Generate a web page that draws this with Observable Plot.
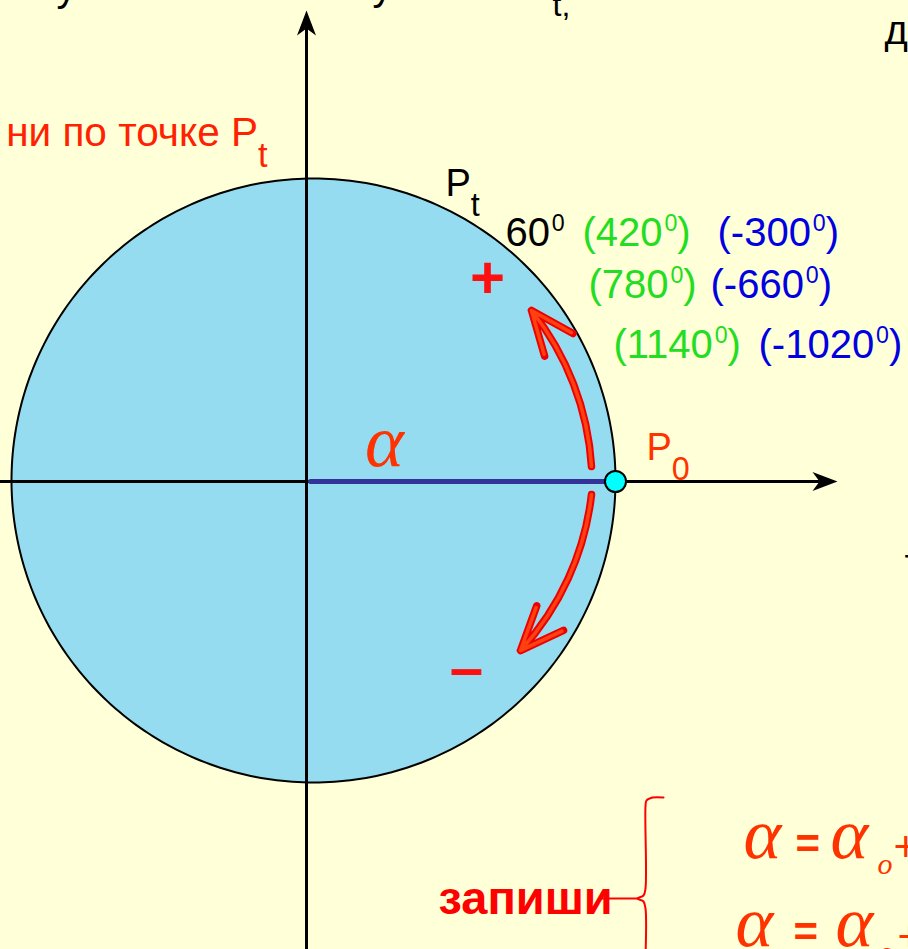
<!DOCTYPE html>
<html><head><meta charset="utf-8">
<script src="https://cdn.jsdelivr.net/npm/d3@7"></script>
<script src="https://cdn.jsdelivr.net/npm/@observablehq/plot@0.6"></script>
<style>html,body{margin:0;padding:0;background:#FFFFD8;overflow:hidden}</style>
</head><body><div id="chart"></div>
<script>
// ---- data (coordinates: origin at axes intersection, y up, 1 unit = 1 px) ----
const R = 302;
const circleCenter = {x: 7, y: 1};
const axisX = [{x: -306, y: 0}, {x: 519, y: 0}];
const axisY = [{x: 0, y: -468}, {x: 0, y: 453}];
const axisTips = [{x: 531, y: 0, rotate: 90}, {x: 0, y: 471, rotate: 0}];
const radiusSeg = [{x: 4, y: 0}, {x: 298, y: 0}];
const pointP0 = [{x: 309, y: 0}];
const rotPlus = [{x1: 285, y1: 15, x2: 225, y2: 171}];
const rotMinus = [{x1: 285, y1: -13, x2: 214, y2: -169}];

const pLabels = [{label: "P_t", x: 139, y: 286}];
const angleBase = [{label: "60^0", x: 199, y: 236}];
const anglesPositive = [
  {label: "(420^0)", x: 276, y: 236},
  {label: "(780^0)", x: 282, y: 184},
  {label: "(1140^0)", x: 307, y: 124}
];
const anglesNegative = [
  {label: "(-300^0)", x: 411, y: 236},
  {label: "(-660^0)", x: 404, y: 184},
  {label: "(-1020^0)", x: 452, y: 124}
];
const p0Label = [{label: "P_0", x: 340, y: 22}];
const alphaLabel = [{label: "α", x: 78, y: 16}];
const signLabels = [{label: "+", x: 181, y: 203}, {label: "–", x: 160, y: -187}];
const topLeftText = [{label: "ни по точке P_t", x: -39, y: 336}];
const topPartial = [
  {label: "у", x: -250, y: 481},
  {label: "у", x: 66, y: 482},
  {label: "д", x: 578, y: 438},
  {label: "т", x: 598, y: -95}
];
const topPartialSub = [{label: "t,", x: 246, y: 466}];
const writeLabel = [{label: "запиши", x: 132, y: -432}];
const formulaAlpha = [{x: 437, y: -376}, {x: 524, y: -376}, {x: 429, y: -464}, {x: 529, y: -464}];
const formulaEq = [{x: 489, y: -376}, {x: 487, y: -464}];
const formulaPlus = [{x: 587, y: -379}, {x: 591, y: -469}];
const formulaSub = [{x: 571, y: -392}, {x: 572, y: -480}];
const brace = [
  {x: 357, y: -316}, {x: 346, y: -316}, {x: 340, y: -319}, {x: 339, y: -325},
  {x: 339, y: -407}, {x: 337, y: -414}, {x: 331, y: -417}, {x: 337, y: -420},
  {x: 339, y: -427}, {x: 339, y: -475}
];
const braceLink = [{x: 294, y: -417}, {x: 331, y: -417}];

// ---- geometry helpers ----
const deg = d3.range(0, 361, 1);
const half = d3.range(0, 181, 1);
const rad = (a) => a * Math.PI / 180;
const stealth = {
  draw(ctx, size) {
    const r = Math.sqrt(size / Math.PI);
    ctx.moveTo(0, 0);
    ctx.lineTo(0.38 * r, r);
    ctx.lineTo(0, 0.72 * r);
    ctx.lineTo(-0.38 * r, r);
    ctx.closePath();
  }
};
const sans = "Liberation Sans, Arial, sans-serif";
const serif = "Liberation Serif, Times New Roman, serif";
const txt = (data, o) => Plot.text(data, {x: "x", y: "y", text: "label", textAnchor: "start", lineAnchor: "bottom", fontFamily: sans, ...o});

const svg = Plot.plot({
  width: 908, height: 949, margin: 0,
  x: {domain: [-306, 602], range: [0, 908], axis: null},
  y: {domain: [-468, 481], range: [949, 0], axis: null},
  style: {background: "#FFFFD8", overflow: "visible"},
  marks: [
    Plot.areaY(half, {
      x: (a) => circleCenter.x + R * Math.cos(rad(a)),
      y1: (a) => circleCenter.y - R * Math.sin(rad(a)),
      y2: (a) => circleCenter.y + R * Math.sin(rad(a)),
      fill: "#96DCF0"
    }),
    Plot.line(deg, {
      x: (a) => circleCenter.x + R * Math.cos(rad(a)),
      y: (a) => circleCenter.y + R * Math.sin(rad(a)),
      stroke: "black", strokeWidth: 2
    }),
    Plot.line(axisX, {x: "x", y: "y", stroke: "black", strokeWidth: 3}),
    Plot.line(axisY, {x: "x", y: "y", stroke: "black", strokeWidth: 3}),
    Plot.dot(axisTips, {x: "x", y: "y", r: 25, symbol: stealth, rotate: "rotate", fill: "black", stroke: "none"}),
    Plot.line(radiusSeg, {x: "x", y: "y", stroke: "#333399", strokeWidth: 5}),
    Plot.arrow(rotPlus, {x1: "x1", y1: "y1", x2: "x2", y2: "y2", bend: -17.5, headAngle: 45, headLength: 9.5, stroke: "#EE0000", strokeWidth: 7.5}),
    Plot.arrow(rotPlus, {x1: "x1", y1: "y1", x2: "x2", y2: "y2", bend: -17.5, headAngle: 45, headLength: 19, stroke: "#FF4010", strokeWidth: 3.6}),
    Plot.arrow(rotMinus, {x1: "x1", y1: "y1", x2: "x2", y2: "y2", bend: 18, headAngle: 45, headLength: 9.5, stroke: "#EE0000", strokeWidth: 7.5}),
    Plot.arrow(rotMinus, {x1: "x1", y1: "y1", x2: "x2", y2: "y2", bend: 18, headAngle: 45, headLength: 19, stroke: "#FF4010", strokeWidth: 3.6}),
    Plot.dot(pointP0, {x: "x", y: "y", r: 10.5, fill: "#00FFFF", stroke: "black", strokeWidth: 2}),
    Plot.line(brace, {x: "x", y: "y", stroke: "#FF0000", strokeWidth: 2, curve: "catmull-rom"}),
    Plot.line(braceLink, {x: "x", y: "y", stroke: "#FF0000", strokeWidth: 2}),
    txt(pLabels, {fontSize: 38, fill: "black"}),
    txt(angleBase, {fontSize: 40, fill: "black"}),
    txt(anglesPositive, {fontSize: 40, fill: "#22DD22"}),
    txt(anglesNegative, {fontSize: 40, fill: "#0000E0"}),
    txt(p0Label, {fontSize: 38, fill: "#FF3300"}),
    txt(alphaLabel, {fontSize: 74, fill: "#FF3300", fontFamily: serif, fontStyle: "italic", textAnchor: "middle"}),
    txt(signLabels, {fontSize: 60, fontWeight: "bold", fill: "#FF1010", textAnchor: "middle", lineAnchor: "middle"}),
    txt(topLeftText, {fontSize: 40.5, fill: "#FF2200", textAnchor: "end"}),
    txt(topPartial, {fontSize: 40, fill: "black"}),
    txt(topPartialSub, {fontSize: 32, fill: "black"}),
    txt(writeLabel, {fontSize: 47, fontWeight: "bold", fill: "#FF0000"}),
    Plot.text(formulaAlpha, {x: "x", y: "y", text: () => "α", textAnchor: "start", lineAnchor: "bottom", fontFamily: serif, fontStyle: "italic", fontSize: 72, fill: "#FF3300"}),
    Plot.text(formulaEq, {x: "x", y: "y", text: () => "=", textAnchor: "start", lineAnchor: "bottom", fontFamily: sans, fontWeight: "bold", fontSize: 42, fill: "#FF3300"}),
    Plot.text(formulaPlus, {x: "x", y: "y", text: () => "+", textAnchor: "start", lineAnchor: "bottom", fontFamily: sans, fontSize: 42, fill: "#FF3300"}),
    Plot.text(formulaSub, {x: "x", y: "y", text: () => "o", textAnchor: "start", lineAnchor: "bottom", fontFamily: serif, fontStyle: "italic", fontSize: 30, fill: "#FF3300"})
  ]
});

// sub/superscripts as tspans
svg.querySelectorAll("text").forEach((t) => {
  const s = t.textContent;
  if (!/[\^_]/.test(s) || s.length < 2) return;
  const segs = [];
  let buf = "";
  for (let i = 0; i < s.length; i++) {
    const c = s[i];
    if ((c === "^" || c === "_") && i + 1 < s.length) {
      if (buf) segs.push({t: buf, k: 0});
      buf = "";
      segs.push({t: s[i + 1], k: c === "^" ? 1 : -1});
      i++;
    } else buf += c;
  }
  if (buf) segs.push({t: buf, k: 0});
  t.textContent = "";
  let cur = 0;
  for (const seg of segs) {
    const ts = document.createElementNS("http://www.w3.org/2000/svg", "tspan");
    let scale = 1, target = 0;
    if (seg.k === 1) { scale = 0.58; target = -0.36; }
    else if (seg.k === -1) { scale = 0.85; target = 0.53; }
    if (scale !== 1) ts.setAttribute("font-size", `${scale * 100}%`);
    if (seg.k === 1) ts.setAttribute("dx", "0.08em");
    const dy = (target - cur) / scale;
    if (dy) ts.setAttribute("dy", `${dy.toFixed(3)}em`);
    cur = target;
    ts.textContent = seg.t;
    t.appendChild(ts);
  }
});
document.getElementById("chart").appendChild(svg);
</script></body></html>
